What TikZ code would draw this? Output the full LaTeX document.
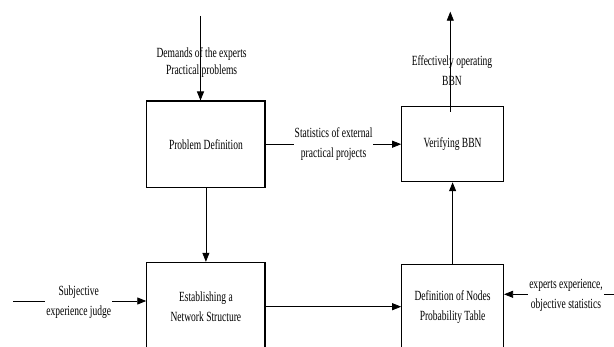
\documentclass[tikz,border=0pt]{standalone}
\usepackage{fontspec}
\setmainfont{Liberation Serif}[FakeStretch=0.68]
\usetikzlibrary{arrows.meta}
\begin{document}
\begin{tikzpicture}[x=1pt,y=-1pt,
  font=\fontsize{14}{20}\selectfont,
  box/.style={draw,line width=1.1pt,inner sep=0pt,align=center},
  txt/.style={inner sep=0pt,align=center},
  gap/.style={fill=white,inner sep=1pt,align=center},
  conn/.style={line width=0.8pt,-{Triangle[length=9pt,width=7pt]}},
  plain/.style={line width=0.8pt}]
\clip (0,0) rectangle (614,347);
\useasboundingbox (0,0) rectangle (614,347);
% boxes
\node[box,minimum width=118.2pt,minimum height=86.3pt] (PD) at (205.9,144.2) {Problem Definition};
\node[box,minimum width=101.8pt,minimum height=75pt] (VB) at (452.6,144.2) {Verifying BBN};
\node[box,minimum width=118.2pt,minimum height=88.7pt] (ES) at (205.9,306.7) {Establishing a\\Network Structure};
\node[box,minimum width=101.8pt,minimum height=84.7pt] (DN) at (452.6,306.7) {Definition of Nodes\\Probability Table};
% top input
\coordinate (topin) at (200.5,16);
\draw[conn] (topin) -- (topin |- PD.north);
\node[txt,font=\fontsize{14}{17}\selectfont] (demands) at (201.6,62.5) {Demands of the experts\\Practical problems};
% PD -> ES
\draw[conn] (PD.south) -- (ES.north);
% PD -> VB
\draw[conn] (PD.east) -- (VB.west);
\node[gap] (stat) at (333.6,144.3) {Statistics of external\\practical projects};
% VB output
\coordinate (vbstart) at (450.3,112);
\coordinate (vbout) at (450.3,11.7);
\draw[conn] (vbstart) -- (vbout);
\node[txt] (eff) at (452,70.7) {Effectively operating\\BBN};
% DN -> VB
\draw[conn] (DN.north) -- (VB.south);
% ES -> DN
\draw[conn] (ES.east) -- (DN.west);
% left input
\coordinate (leftin) at (13.3,301);
\draw[conn] (leftin) -- (leftin -| ES.west);
\node[gap] (subj) at (78.7,301.8) {Subjective\\experience judge};
% right input
\coordinate (rightin) at (614,294.3);
\draw[conn] (rightin) -- (rightin -| DN.east);
\node[gap] (expe) at (566,295.3) {experts experience,\\objective statistics};
\end{tikzpicture}
\end{document}
